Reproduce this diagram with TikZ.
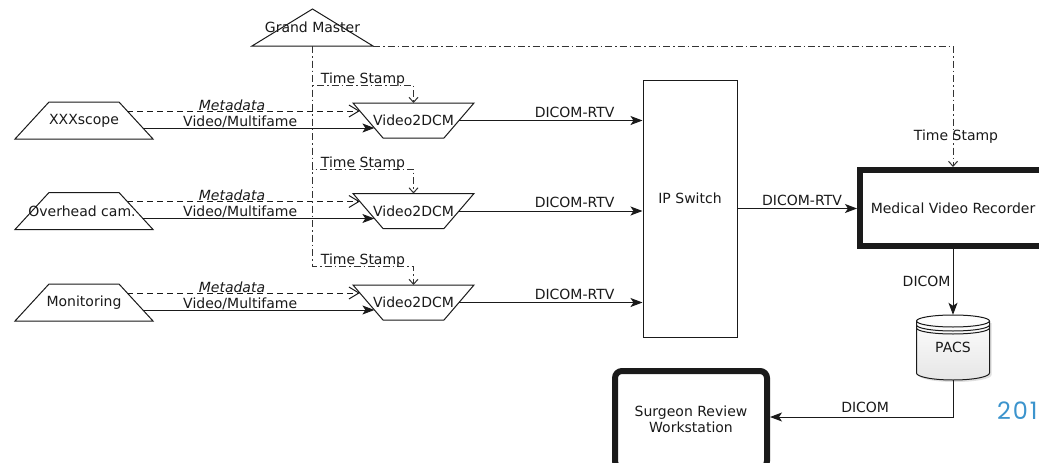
\documentclass[tikz,border=0pt]{standalone}
\usepackage{fontspec}
\setmainfont{DejaVu Sans}
\newfontfamily\yearfont[LetterSpace=8]{Poppins}
\usetikzlibrary{arrows.meta,calc}
\definecolor{ink}{HTML}{1A1A1A}
\definecolor{tsgray}{HTML}{333333}
\definecolor{yearblue}{RGB}{60,148,205}
\begin{document}
\begin{tikzpicture}[x=1pt,y=-1pt,
  txt/.style={font=\fontsize{14}{16}\selectfont, text=ink},
  every node/.style={txt},
  itxt/.style={font=\fontsize{14}{16}\selectfont\itshape, text=ink},
  shapetext/.style={inner sep=0pt, outer sep=0pt, minimum height=#1},
  outline/.style={draw=ink, line width=1pt, line join=miter},
  heavy/.style={draw=ink, line width=6pt, inner sep=0pt},
  vid/.style={draw=ink, line width=1pt, -{Stealth[length=12pt,width=9pt,inset=3pt]}},
  meta/.style={draw=ink, line width=1pt, dash pattern=on 6pt off 4pt,
    -{Straight Barb[length=10pt,width=12pt]}},
  ts/.style={draw=tsgray, line width=1pt, dash pattern=on 7pt off 3pt on 1.5pt off 3pt},
  tsarrow/.style={ts, -{Straight Barb[length=5pt,width=9pt]}},
  above line/.style={anchor=base, inner sep=0pt, yshift=#1},
]
\useasboundingbox (0,0) rectangle (1039,463);
\fill[white] (0,0) rectangle (1039,463);
\clip (0,0) rectangle (1039,463);

% clock source (triangle)
\node[shapetext=37pt] (gm) at (312.5,27.5) {Grand Master};
\draw[outline] ($(gm.center)+(0,-18.5)$) -- ($(gm.center)+(60.5,18.5)$)
  -- ($(gm.center)+(-60.5,18.5)$) -- cycle;

% video sources (trapezia, narrow side up)
\node[shapetext=37pt] (s1) at (84,120.5) {XXXscope};
\node[shapetext=37pt] (s2) at (82,211) {Overhead cam.};
\node[shapetext=37pt] (s3) at (84,302.5) {Monitoring};
\foreach \n/\dx in {s1/0,s2/2,s3/0}
  \draw[outline] ($(\n.center)+(-35+\dx,-18.5)$) -- ($(\n.center)+(35+\dx,-18.5)$)
    -- ($(\n.center)+(69+\dx,18.5)$) -- ($(\n.center)+(-69+\dx,18.5)$) -- cycle;

% converters (trapezia, wide side up)
\node[shapetext=35pt] (v1) at (413.5,120.5) {Video2DCM};
\node[shapetext=35pt] (v2) at (413.5,211) {Video2DCM};
\node[shapetext=35pt] (v3) at (413.5,302.5) {Video2DCM};
\foreach \n in {v1,v2,v3}
  \draw[outline] ($(\n.center)+(-60.5,-17.5)$) -- ($(\n.center)+(60.5,-17.5)$)
    -- ($(\n.center)+(30.5,17.5)$) -- ($(\n.center)+(-30.5,17.5)$) -- cycle;

% network switch
\node[draw=ink, line width=1pt, inner sep=0pt, minimum width=94pt, minimum height=257pt] (ip) at (690,208.5) {};
\node (iplbl) at (690,198) {IP Switch};

% recorder
\node[heavy, minimum width=186pt, minimum height=76pt] (mvr) at (953,208) {Medical Video Recorder};

% archive drum
\begin{scope}[shift={(953,347.5)}]
  \fill[black!12] (-34.5,-24.5) -- (-34.5,27.5)
    arc[start angle=180, end angle=0, x radius=36.5, y radius=7]
    -- (38.5,-24.5) -- cycle;
  \path[top color=white, bottom color=black!10, draw=ink, line width=1pt]
    (-36.5,-26.5) -- (-36.5,25.5)
    arc[start angle=180, end angle=0, x radius=36.5, y radius=7]
    -- (36.5,-26.5)
    arc[start angle=0, end angle=-180, x radius=36.5, y radius=6] -- cycle;
  \draw[ink, line width=1pt] (-36.5,-26.5)
    arc[start angle=180, end angle=0, x radius=36.5, y radius=6];
  \draw[ink, line width=1pt] (-36.5,-22.5)
    arc[start angle=180, end angle=0, x radius=36.5, y radius=6];
  \draw[ink, line width=1pt] (-36.5,-19.5)
    arc[start angle=180, end angle=0, x radius=36.5, y radius=6];
\end{scope}
\node[minimum width=73pt, minimum height=65pt, inner sep=0pt] (pacs) at (953,347.5) {PACS};

% review station
\node[heavy, rounded corners=7pt, minimum width=152pt, minimum height=97pt, align=center]
  (srw) at (691,419.5) {Surgeon Review\\Workstation};

% inputs into the converters
\foreach \i/\dx in {1/0,2/2,3/0} {
  \draw[meta] ($(s\i.center)+(43.3+\dx,-9.5)$)
    -- node[pos=0.45, above line=1pt, itxt] {Metadata}
    ($(v\i.center)+(-53.6,-9.5)$);
  \draw[vid] ($(s\i.center)+(59+\dx,7.5)$)
    -- node[pos=0.42, above line=2pt] {Video/Multifame}
    ($(v\i.center)+(-39.1,7.5)$);
  \draw[vid] ($(v\i.center)+(45.5,0)$)
    -- node[pos=0.63, above line=3.5pt] {DICOM-RTV}
    (v\i.center -| ip.west);
}

% time stamps
\draw[tsarrow] (gm.south) |- node[pos=0.75, above line=2pt] {Time Stamp} (v1.north |- 0,85) -- (v1.north);
\draw[tsarrow] (gm.south) |- node[pos=0.75, above line=2pt] {Time Stamp} (v2.north |- 0,169) -- (v2.north);
\draw[tsarrow] (gm.south) |- node[pos=0.75, above line=2pt] {Time Stamp} (v3.north |- 0,266) -- (v3.north);
\draw[tsarrow] ($(gm.south)+(60.5,0)$) -| node[pos=0.875, xshift=3pt] {Time Stamp} (mvr.north);

% recording and archiving
\draw[vid] (ip.east) -- node[pos=0.54, above line=3.5pt] {DICOM-RTV} (ip.east -| mvr.west);
\draw[vid] (mvr.south) -- node[midway, anchor=east, inner sep=2pt] {DICOM} (pacs.north);
\draw[vid] (pacs.south) |- node[pos=0.74, above line=4.5pt] {DICOM} ([yshift=2.5pt]srw.east);

% year mark
\node[anchor=base west, inner sep=0pt, text=yearblue, font=\yearfont\fontsize{24}{28}\selectfont]
  (year) at (997,419) {2018};
\end{tikzpicture}
\end{document}
